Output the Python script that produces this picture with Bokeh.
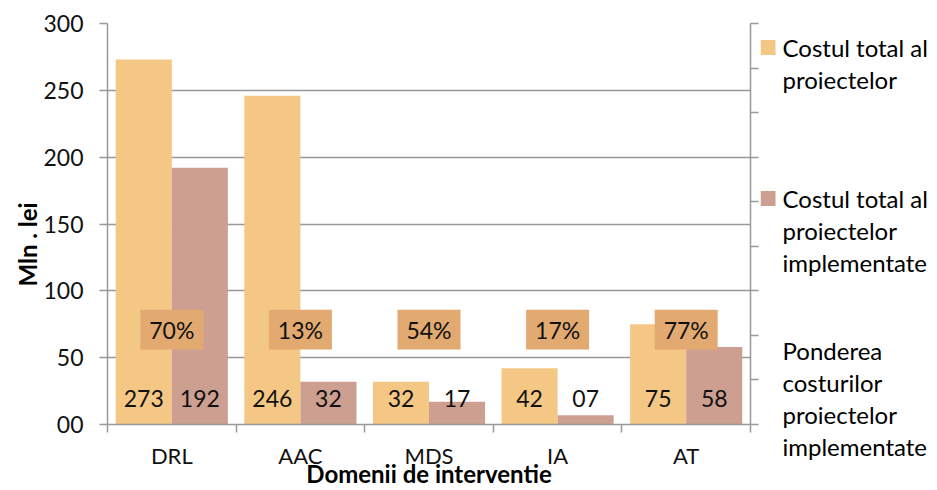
from bokeh.plotting import figure
from bokeh.layouts import row
from bokeh.models import Range1d, FixedTicker, LinearAxis, ColumnDataSource
from bokeh.core.properties import value
from bokeh.embed import file_html
from bokeh.resources import INLINE

# ---- data ----
categories = ["DRL", "AAC", "MDS", "IA", "AT"]
cost_total = [273, 246, 32, 42, 75]            # Costul total al proiectelor
cost_implemented = [192, 32, 17, 7, 58]        # Costul total al proiectelor implementate
share_pct = [70, 13, 54, 17, 77]               # Ponderea costurilor proiectelor implementate
y_ticks = [0, 50, 100, 150, 200, 250, 300]
y_tick_labels = {0: "00"}
x_title = "Domenii de interventie"
y_title = "Mln . lei"
legend_labels = [
    ["Costul total al", "proiectelor"],
    ["Costul total al", "proiectelor", "implementate"],
    ["Ponderea", "costurilor", "proiectelor", "implementate"],
]

FONT = "Lato"
FS = "23px"        # data labels, y tick labels
FS_CAT = "22px"    # category labels
FS_LEG = "24px"    # legend
FS_T = "24px"      # axis titles
C_TOTAL = "#F5C785"
C_IMPL = "#CC9F90"
C_SHARE = "#E2AA70"
GRID = "#999999"
TXT = "#111111"

W_MAIN, H = 760, 490
FL, FR, FT, FB = 107, 750, 23, 427   # frame in canvas px

p = figure(width=W_MAIN, height=H, output_backend="svg", toolbar_location=None,
           x_range=Range1d(0, len(categories)), y_range=Range1d(0, 300),
           min_border_left=FL, min_border_right=W_MAIN - FR,
           min_border_top=FT, min_border_bottom=H - FB)
p.outline_line_color = None

centers = [i + 0.5 for i in range(len(categories))]
bw = 0.436
src = ColumnDataSource(dict(
    xc=centers,
    x_tot=[c - bw / 2 for c in centers],
    x_imp=[c + bw / 2 for c in centers],
    tot=cost_total,
    imp=cost_implemented,
    tot_lbl=[f"{v:02d}" for v in cost_total],
    imp_lbl=[f"{v:02d}" for v in cost_implemented],
    pct_lbl=[f"{v}%" for v in share_pct],
))

p.vbar(x="x_tot", top="tot", width=bw, source=src, fill_color=C_TOTAL, line_color=None)
p.vbar(x="x_imp", top="imp", width=bw, source=src, fill_color=C_IMPL, line_color=None)

txt_kw = dict(text_font=value(FONT), text_font_size=value(FS), text_color=TXT,
              text_align="center", text_baseline="middle")
p.text(x="x_tot", y=19.3, text="tot_lbl", source=src, **txt_kw)
p.text(x="x_imp", y=19.3, text="imp_lbl", source=src, **txt_kw)

p.rect(x="xc", y=71, width=0.49, height=29.7, source=src, fill_color=C_SHARE, line_color=None)
p.text(x="xc", y=71, text="pct_lbl", source=src, **txt_kw)

# ---- axes ----
p.xaxis.ticker = FixedTicker(ticks=centers, minor_ticks=list(range(len(categories) + 1)))
p.xaxis.major_label_overrides = {c: n for c, n in zip(centers, categories)}
p.xaxis.major_tick_out = 0
p.xaxis.major_tick_in = 0
p.xaxis.minor_tick_out = 8
p.xaxis.minor_tick_in = 0
p.xaxis.major_label_standoff = 9
p.xaxis.axis_label = x_title
p.xaxis.axis_label_standoff = -13

p.yaxis.ticker = FixedTicker(ticks=y_ticks)
p.yaxis.major_label_overrides = y_tick_labels
p.yaxis.major_tick_out = 8
p.yaxis.major_tick_in = 0
p.yaxis.minor_tick_out = 0
p.yaxis.minor_tick_in = 0
p.yaxis.major_label_standoff = 16
# trailing no-break spaces push the visible title slightly below the frame centre
p.yaxis.axis_label = y_title + "\u00a0" * 7
p.yaxis.axis_label_standoff = -2

for ax in (p.xaxis[0], p.yaxis[0]):
    ax.axis_line_color = GRID
    ax.axis_line_width = 1.5
    ax.major_tick_line_color = GRID
    ax.major_tick_line_width = 1.5
    ax.minor_tick_line_color = GRID
    ax.minor_tick_line_width = 1.5
    ax.major_label_text_font = FONT
    ax.major_label_text_color = TXT
    ax.axis_label_text_font = FONT
    ax.axis_label_text_font_size = FS_T
    ax.axis_label_text_font_style = "bold"
    ax.axis_label_text_color = "#000000"
p.xaxis.major_label_text_font_size = FS_CAT
p.yaxis.major_label_text_font_size = FS

right_ticks = [i * 300 / 9 for i in range(10)]
right = LinearAxis(ticker=FixedTicker(ticks=right_ticks))
right.major_label_overrides = {t: "" for t in right_ticks}
right.major_label_standoff = 0
right.major_tick_out = 8
right.major_tick_in = 0
right.minor_tick_out = 0
right.minor_tick_in = 0
right.axis_line_color = GRID
right.axis_line_width = 1.5
right.major_tick_line_color = GRID
right.major_tick_line_width = 1.5
p.add_layout(right, "right")

p.xgrid.grid_line_color = None
p.ygrid.ticker = FixedTicker(ticks=y_ticks[1:])
p.ygrid.grid_line_color = GRID
p.ygrid.grid_line_width = 1.5

# ---- legend panel (pixel coordinates) ----
W_LEG = 937 - W_MAIN
lg = figure(width=W_LEG, height=H, output_backend="svg", toolbar_location=None,
            x_range=Range1d(W_MAIN, 937), y_range=Range1d(H, 0), min_border=0)
try:
    lg.frame_align = False
except Exception:
    pass
lg.axis.visible = False
lg.grid.grid_line_color = None
lg.outline_line_color = None

entry_y0 = [47, 198, 350]
entry_col = [C_TOTAL, C_IMPL, None]
line_step = 32
lx, ly, lt = [], [], []
for lines, y0 in zip(legend_labels, entry_y0):
    for k, t in enumerate(lines):
        lx.append(782)
        ly.append(y0 + line_step * k)
        lt.append(t)
lg.text(x=lx, y=ly, text=lt, text_font=value(FONT), text_font_size=value(FS_LEG),
        text_color="#000000", text_align="left", text_baseline="middle")
sq_y = [y for y, c in zip(entry_y0, entry_col) if c is not None]
sq_c = [c for c in entry_col if c is not None]
lg.rect(x=[767.5] * len(sq_y), y=sq_y, width=15, height=15, fill_color=sq_c, line_color=None)

layout = row(p, lg, spacing=0)
open("out.html", "w").write(file_html(layout, INLINE))
